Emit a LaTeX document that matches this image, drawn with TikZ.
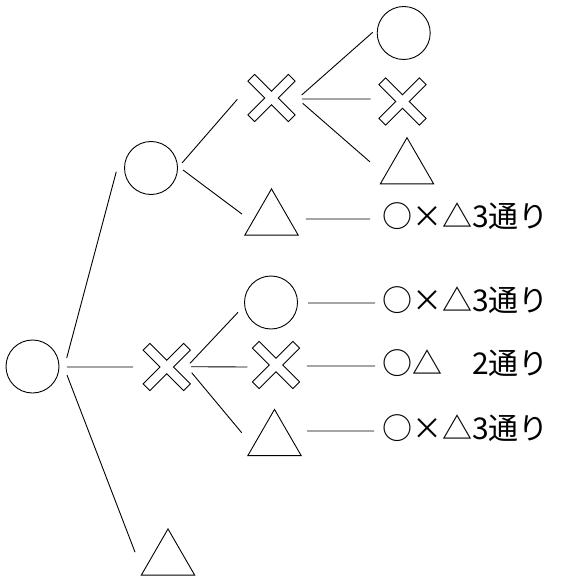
\documentclass[tikz,border=0pt]{standalone}
\usepackage{fontspec}
\newfontfamily\jpfont{Noto Sans CJK JP}
\begin{document}
\tikzset{
  glyph/.style={line width=0.9pt, line join=miter},
  circmk/.style={circle, draw, line width=0.9pt, minimum size=53pt, inner sep=0pt},
  xmk/.style={rectangle, inner sep=0pt, minimum size=52pt,
    path picture={\draw[glyph, shift={(path picture bounding box.center)}]
      (-16.9pt,23.6pt) -- (0pt,6.7pt) -- (16.9pt,23.6pt) -- (23.6pt,16.9pt) --
      (6.7pt,0pt) -- (23.6pt,-16.9pt) -- (16.9pt,-23.6pt) -- (0pt,-6.7pt) --
      (-16.9pt,-23.6pt) -- (-23.6pt,-16.9pt) -- (-6.7pt,0pt) -- (-23.6pt,16.9pt) -- cycle;}},
  trimk/.style={rectangle, inner sep=0pt, minimum size=66pt,
    path picture={\draw[glyph, shift={(path picture bounding box.center)}]
      (0pt,30.8pt) -- (26.67pt,-15.4pt) -- (-26.67pt,-15.4pt) -- cycle;}},
  conn/.style={line width=0.9pt},
  lab/.style={anchor=west, inner sep=0pt, font=\jpfont\fontsize{30pt}{34pt}\selectfont},
}
\begin{tikzpicture}[x=1pt,y=-1pt]
\useasboundingbox (0,0) rectangle (577,585);
% nodes
\node[circmk] (R0) at (32.5,366.5) {};
\node[circmk] (A) at (151,168) {};
\node[xmk] (B) at (166.7,367) {};
\node[trimk] (C) at (168,559.7) {};
\node[xmk] (AX) at (271.5,98) {};
\node[trimk] (AT) at (271.5,219.7) {};
\node[circmk] (AXO) at (403.7,33) {};
\node[xmk] (AXX) at (402.5,101.5) {};
\node[trimk] (AXT) at (407,168.5) {};
\node[circmk] (BO) at (271,302.5) {};
\node[xmk] (BX) at (276,365) {};
\node[trimk] (BT) at (274.5,440.2) {};
\node[lab] (L1) at (382,216.5) {○×△3通り};
\node[lab] (L2) at (382,300.5) {○×△3通り};
\node[lab] (L3) at (382,363.5) {○△　2通り};
\node[lab] (L4) at (382,428.5) {○×△3通り};
% connectors
\draw[conn] ([shift={(13.96:35.24pt)}]R0.center) -- ([shift={(186.09:34.9pt)}]A.center);
\draw[conn] ([shift={(-0.8:34.5pt)}]R0.center) -- ([shift={(180:33.7pt)}]B.center);
\draw[conn] ([shift={(-13.84:35.5pt)}]R0.center) -- ([shift={(167.03:33.86pt)}]C.center);
\draw[conn] ([shift={(9.16:31.4pt)}]A.center) -- ([shift={(182.2:34.2pt)}]AX.center);
\draw[conn] ([shift={(-3.58:32.06pt)}]A.center) -- ([shift={(169.25:30.03pt)}]AT.center);
\draw[conn] ([shift={(5.67:30.35pt)}]AX.center) -- ([shift={(178.7:31pt)}]AXO.center);
\draw[conn] ([shift={(-1.88:30.5pt)}]AX.center) -- ([shift={(175.53:32.1pt)}]AXX.center);
\draw[conn] ([shift={(-9.64:31.65pt)}]AX.center) -- ([shift={(169.89:37.6pt)}]AXT.center);
\draw[conn] ([shift={(1.16:34.5pt)}]AT.center) -- ([shift={(-12pt,-2.5pt)}]L1.west);
\draw[conn] ([shift={(9.02:23.6pt)}]B.center) -- ([shift={(196.54:34.4pt)}]BO.center);
\draw[conn] ([shift={(0.7:24.3pt)}]B.center) -- ([shift={(184:28.8pt)}]BX.center);
\draw[conn] ([shift={(-12.84:25.64pt)}]B.center) -- ([shift={(167.12:33.65pt)}]BT.center);
\draw[conn] ([shift={(-0.77:37pt)}]BO.center) -- ([shift={(-7pt,-2.5pt)}]L2.west);
\draw[conn] ([shift={(-1.85:31pt)}]BX.center) -- ([shift={(-7pt,-2.5pt)}]L3.west);
\draw[conn] ([shift={(15.8:33.8pt)}]BT.center) -- ([shift={(-8pt,-2.5pt)}]L4.west);
\end{tikzpicture}
\end{document}
